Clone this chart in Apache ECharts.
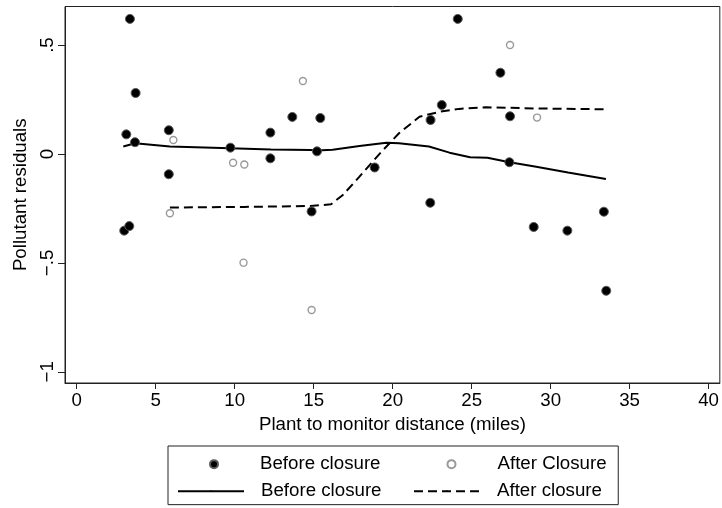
<!DOCTYPE html>
<html lang="en">

<head>
  <meta charset="UTF-8" />
  <title>Pollutant residuals</title>
  <script src="https://cdn.jsdelivr.net/npm/echarts@6/dist/echarts.min.js"></script>
</head>

<body style="margin:0;overflow:hidden;background:#fff;">
  <div id="panel" style="width:722px;height:508px;"></div>
  <script>
    // points: before closure (filled) and after closure (hollow)
    var beforeX = [3.37, 3.73, 3.14, 3.69, 5.83, 5.83, 9.73, 12.26, 12.26, 13.65, 15.42, 15.21, 18.86,
      22.40, 23.11, 24.12, 26.82, 27.43, 27.39, 3.01, 3.33, 14.87, 22.38, 28.93, 31.06, 33.37, 33.52];
    var beforeY = [0.620, 0.280, 0.090, 0.054, 0.109, -0.093, 0.029, 0.098, -0.020, 0.170, 0.165, 0.012, -0.062,
      0.156, 0.225, 0.620, 0.373, 0.173, -0.038, -0.352, -0.331, -0.264, -0.224, -0.335, -0.352, -0.265, -0.628];
    var afterX = [6.12, 9.90, 10.61, 14.32, 27.43, 29.14, 5.90, 10.56, 14.87];
    var afterY = [0.064, -0.040, -0.048, 0.335, 0.500, 0.167, -0.272, -0.499, -0.716];

    // smoothed lines
    var smoothBeforeX = [2.95, 3.7, 5.9, 9.7, 12.3, 14.8, 15.2, 16.2, 17.9, 19.6, 20.4, 22.3, 23.6, 24.9, 26.0, 27.4, 29.0, 31.1, 33.5];
    var smoothBeforeY = [0.034, 0.049, 0.034, 0.026, 0.021, 0.018, 0.016, 0.019, 0.037, 0.052, 0.049, 0.034, 0.006, -0.015, -0.017, -0.038, -0.058, -0.085, -0.115];
    var smoothAfterX = [5.9, 10.6, 14.8, 16.1, 16.85, 17.9, 19.2, 20.4, 21.7, 23.0, 24.2, 25.9, 27.4, 29.1, 33.5];
    var smoothAfterY = [-0.246, -0.243, -0.239, -0.231, -0.188, -0.104, 0.003, 0.095, 0.171, 0.194, 0.207, 0.214, 0.212, 0.209, 0.205];

    var xTicks = [0, 5, 10, 15, 20, 25, 30, 35, 40];
    var yTicks = [-1, -0.5, 0, 0.5];
    var yTickLabels = ['\u22121', '\u2212.5', '0', '.5'];

    function pairs(xs, ys) {
      return xs.map(function (x, i) { return [x, ys[i]]; });
    }

    var font = 'Liberation Sans, Arial, sans-serif';
    var fs = 18.7;

    var myChart = echarts.init(document.getElementById('panel'));

    var option = {
      animation: false,
      grid: {
        left: 65, right: 1.5, top: 6.5, bottom: 125,
        show: true, borderColor: '#222', borderWidth: 1
      },
      xAxis: {
        type: 'value',
        min: -0.74, max: 40.71,
        name: 'Plant to monitor distance (miles)',
        nameLocation: 'middle',
        nameGap: 29,
        nameTextStyle: { color: '#000', fontSize: fs, fontFamily: font },
        axisLine: { show: true, onZero: false, lineStyle: { color: '#222', width: 1 } },
        axisTick: { show: true, length: 6, customValues: xTicks, lineStyle: { color: '#222' } },
        axisLabel: { customValues: xTicks, margin: 8, color: '#000', fontSize: fs, fontFamily: font },
        splitLine: { show: false }
      },
      yAxis: {
        type: 'value',
        min: -1.0514, max: 0.677,
        name: 'Pollutant residuals',
        nameLocation: 'middle',
        nameGap: 32.5,
        nameRotate: 90,
        nameTextStyle: { color: '#000', fontSize: fs, fontFamily: font },
        axisLine: { show: true, onZero: false, lineStyle: { color: '#222', width: 1 } },
        axisTick: { show: true, length: 7, customValues: yTicks, lineStyle: { color: '#222' } },
        axisLabel: {
          customValues: yTicks, margin: 8, rotate: 90, color: '#000', fontSize: fs, fontFamily: font,
          formatter: function (v) {
            var i = yTicks.indexOf(Math.round(v * 100) / 100);
            return i >= 0 ? yTickLabels[i] : '';
          }
        },
        splitLine: { show: false }
      },
      legend: [
        {
          // marker row, carries the frame round both rows
          data: ['Before closure', 'After Closure'],
          left: 168, top: 446,
          padding: [8.65, 11.7, 31, 41],
          borderColor: '#222', borderWidth: 1,
          itemWidth: 8, itemHeight: 8, itemGap: 66,
          selectedMode: false,
          textStyle: { color: '#000', fontSize: fs, fontFamily: font, padding: [0, 0, 0, 37] }
        },
        {
          data: ['Before closure ', 'After closure'],
          left: 177, top: 481.65,
          padding: 0,
          itemWidth: 66, itemHeight: 2, itemGap: 31.5,
          selectedMode: false,
          formatter: function (name) { return name.trim(); },
          textStyle: { color: '#000', fontSize: fs, fontFamily: font, padding: [0, 0, 0, 12] }
        }
      ],
      series: [
        {
          name: 'Before closure ',
          type: 'line',
          data: pairs(smoothBeforeX, smoothBeforeY),
          symbol: 'none',
          clip: false,
          lineStyle: { color: '#000', width: 2 },
          itemStyle: { color: '#000' },
          z: 3
        },
        {
          name: 'After closure',
          type: 'line',
          data: pairs(smoothAfterX, smoothAfterY),
          symbol: 'none',
          clip: false,
          lineStyle: { color: '#000', width: 2, type: [9, 5] },
          itemStyle: { color: '#000' },
          z: 3
        },
        {
          name: 'Before closure',
          type: 'scatter',
          data: pairs(beforeX, beforeY),
          symbol: 'circle',
          symbolSize: 9,
          clip: false,
          itemStyle: { color: '#000', borderColor: '#5a5a5a', borderWidth: 1, opacity: 1 },
          z: 4
        },
        {
          name: 'After Closure',
          type: 'scatter',
          data: pairs(afterX, afterY),
          symbol: 'circle',
          symbolSize: 7,
          clip: false,
          itemStyle: { color: 'rgba(255,255,255,0)', borderColor: '#999', borderWidth: 1.4, opacity: 1 },
          z: 4
        }
      ]
    };

    myChart.setOption(option);

    window.addEventListener('resize', function () {
      myChart.resize();
    });
  </script>
</body>

</html>
